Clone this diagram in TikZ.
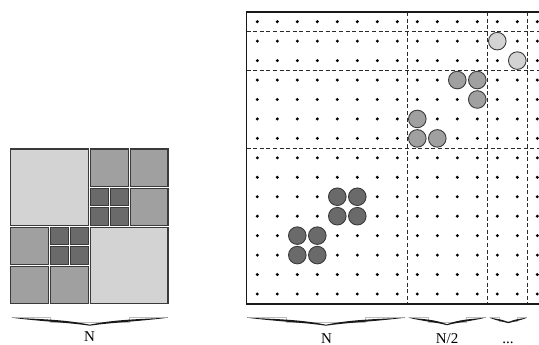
\documentclass[tikz,border=0pt]{standalone}
\usepackage{fontspec}
\setmainfont{Liberation Serif}
\definecolor{lgray}{HTML}{D3D3D3}
\definecolor{mgray}{HTML}{A0A0A0}
\definecolor{dgray}{HTML}{6A6A6A}
\definecolor{edgec}{HTML}{3A3A3A}
\definecolor{dashc}{HTML}{2A2A2A}
\definecolor{ghostc}{HTML}{BDBDBD}
\newcommand{\LX}{9.5}
\newcommand{\LY}{148}
\newcommand{\SX}{19.94}
\newcommand{\SY}{19.56}
\newcommand{\lbox}[5]{\draw[cellbox=#5] ({\LX+#1*\SX+1},{\LY+#2*\SY+1}) rectangle ({\LX+#3*\SX-1},{\LY+#4*\SY-1});}
\newcommand{\gdot}[3]{\draw[ball=#3] ({257.3+20*#1},{21.7+19.45*#2}) circle (8.8);}
% brace: #1 left x, #2 right x, #3 top y, #4 depth, #5 thickness scale
\newcommand{\ibrace}[5]{%
  \pgfmathsetmacro{\brH}{(#2-#1)/2}%
  \pgfmathsetmacro{\brM}{(#1+#2)/2}%
  \pgfmathsetmacro{\brQa}{#1+\brH/2}%
  \pgfmathsetmacro{\brQb}{#2-\brH/2}%
  \draw[ghostline] (#1,#3) -- (\brQa,#3) -- (\brQa,{#3+5*#5}) -- (\brQb,{#3+5*#5}) -- (\brQb,#3) -- (#2,#3);
  \fill[bracefill] (#1,#3) .. controls ({#1+0.4*\brH},{#3+1.5*#5}) and ({\brM-0.3*\brH},{#3+2*#5}) .. (\brM,{#3+#4-1})
    .. controls ({\brM+0.3*\brH},{#3+2*#5}) and ({#2-0.4*\brH},{#3+1.5*#5}) .. (#2,#3)
    .. controls ({#2-0.4*\brH},{#3+4*#5}) and ({\brM+0.3*\brH},{#3+4.6*#5}) .. (\brM,{#3+#4})
    .. controls ({\brM-0.3*\brH},{#3+4.6*#5}) and ({#1+0.4*\brH},{#3+4*#5}) .. cycle;
}
\begin{document}
\begin{tikzpicture}[x=1pt,y=-1pt,
  cellbox/.style={fill=#1, draw=edgec, line width=1.1pt},
  ball/.style={fill=#1, draw=edgec, line width=0.9pt},
  divline/.style={draw=dashc, line width=0.9pt, dash pattern=on 4pt off 2.6pt},
  bracefill/.style={fill=black!90},
  ghostline/.style={draw=ghostc, line width=0.5pt},
  lab/.style={font=\fontsize{15}{18}\selectfont, anchor=base, inner sep=0pt}]
\useasboundingbox (0,0) rectangle (539,345);
% ---- left panel
\lbox{0}{0}{4}{4}{lgray}
\lbox{4}{0}{6}{2}{mgray}
\lbox{6}{0}{8}{2}{mgray}
\lbox{4}{2}{5}{3}{dgray}
\lbox{5}{2}{6}{3}{dgray}
\lbox{4}{3}{5}{4}{dgray}
\lbox{5}{3}{6}{4}{dgray}
\lbox{6}{2}{8}{4}{mgray}
\lbox{0}{4}{2}{6}{mgray}
\lbox{2}{4}{3}{5}{dgray}
\lbox{3}{4}{4}{5}{dgray}
\lbox{2}{5}{3}{6}{dgray}
\lbox{3}{5}{4}{6}{dgray}
\lbox{0}{6}{2}{8}{mgray}
\lbox{2}{6}{4}{8}{mgray}
\lbox{4}{4}{8}{8}{lgray}
\ibrace{11.5}{168}{317.7}{8}{1}
\node[lab] (labL) at (89.5,341.5) {N};
% ---- right panel
\foreach \i in {0,...,14} {
  \foreach \j in {0,...,14} {
    \fill ({257.3+20*\i},{21.7+19.45*\j}) circle (1.65);
  }
}
\foreach \xx in {407.3,487.3,527.3} {
  \draw[divline] (\xx,12) -- (\xx,304);
}
\foreach \yy in {31.4,70.3,148.1} {
  \draw[divline] (246.5,\yy) -- (539,\yy);
}
\draw[line width=1.1pt, draw=black!90] (540,12) -- (246.5,12) -- (246.5,304) -- (540,304);
\gdot{12}{1}{lgray}
\gdot{13}{2}{lgray}
\gdot{10}{3}{mgray}
\gdot{11}{3}{mgray}
\gdot{11}{4}{mgray}
\gdot{8}{5}{mgray}
\gdot{8}{6}{mgray}
\gdot{9}{6}{mgray}
\gdot{4}{9}{dgray}
\gdot{5}{9}{dgray}
\gdot{4}{10}{dgray}
\gdot{5}{10}{dgray}
\gdot{2}{11}{dgray}
\gdot{3}{11}{dgray}
\gdot{2}{12}{dgray}
\gdot{3}{12}{dgray}
\ibrace{247}{405}{317.7}{8}{1}
\ibrace{408.5}{485.5}{317.7}{7.5}{0.95}
\ibrace{489.5}{527}{317.7}{5.5}{0.8}
\node[lab] (labN) at (326.5,343) {N};
\node[lab] (labN2) at (447,343) {N/2};
\node[lab] (labD) at (508,343) {...};
\end{tikzpicture}
\end{document}
